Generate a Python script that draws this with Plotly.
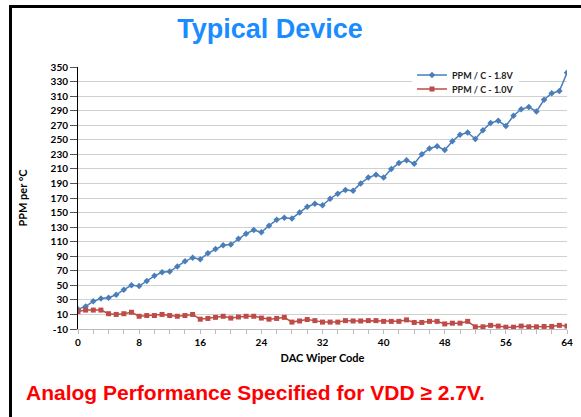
import plotly.graph_objects as go

# DAC wiper codes 0..64
codes = list(range(65))

ppm_18v = [17, 21, 28, 32, 33, 37, 44, 50, 49, 56, 63, 68, 69, 76, 83, 88,
           86, 94, 100, 105, 106, 114, 121, 126, 123, 132, 140, 143, 142, 150,
           158, 162, 160, 169, 176, 181, 180, 190, 198, 202, 198, 210, 218, 222,
           217, 230, 238, 241, 236, 248, 257, 260, 251, 263, 273, 276, 269, 283,
           292, 295, 289, 305, 314, 317, 342]

ppm_10v = [14, 16, 16, 16, 11, 10, 11, 13, 7.5, 8.5, 8.5, 10, 8.5, 7.5, 8.5, 10,
           3.5, 4.5, 6, 7.5, 5, 6.5, 7.5, 7.5, 5, 3.5, 4.5, 6, -0.5, 1, 3, 1.5,
           -0.5, -0.5, -0.5, 1.5, 1, 1, 1.5, 1.5, 0.5, 0.5, 0.5, 2.5, -1, -1, 0.5,
           0.5, -3, -2, -2, 0.5, -7, -7, -5, -6, -7.5, -7.5, -6, -7, -7, -6.5,
           -6.5, -5, -6]

y_ticks = list(range(-10, 351, 20))
x_ticks = list(range(0, 65, 8))

W, H = 581, 417
L, R, T, B = 78, 14, 67, 88
pw, ph = W - L - R, H - T - B


def px_x(p):
    return (p - L) / pw


def px_y(p):
    return (H - B - p) / ph


font = "Lato, 'Open Sans', Arial, sans-serif"
blue, red = "#4A7EBB", "#BE4B48"

fig = go.Figure()
fig.add_trace(go.Scatter(
    x=codes, y=ppm_18v, name="<b>PPM / C - 1.8V</b>", mode="lines+markers",
    line=dict(color=blue, width=1.5),
    marker=dict(symbol="diamond", size=5, color=blue),
    legend="legend",
))
fig.add_trace(go.Scatter(
    x=codes, y=ppm_10v, name="<b>PPM / C - 1.0V</b>", mode="lines+markers",
    line=dict(color=red, width=1.5),
    marker=dict(symbol="square", size=5, color=red),
    legend="legend2",
))

leg_common = dict(xanchor="left", yanchor="middle",
                  font=dict(family=font, size=9, color="#222"),
                  itemwidth=30, borderwidth=0)

fig.update_layout(
    width=W, height=H,
    margin=dict(l=L, r=R, t=T, b=B, autoexpand=False),
    paper_bgcolor="white", plot_bgcolor="white",
    title=dict(text="<b>Typical Device</b>", x=270 / W, xref="container",
               xanchor="center", y=1 - 29 / H, yanchor="middle",
               font=dict(family="Arial, 'Liberation Sans', sans-serif",
                         size=27, color="#1A8CFF")),
    legend=dict(x=px_x(412), y=px_y(75), bgcolor="white", **leg_common),
    legend2=dict(x=px_x(412), y=px_y(89), bgcolor="rgba(0,0,0,0)", **leg_common),
    showlegend=True,
)

fig.update_xaxes(
    range=[0, 64], tickvals=x_ticks,
    ticktext=[f"<b>{v}</b>" for v in x_ticks], showgrid=False,
    showline=True, linecolor="#BBBBBB", linewidth=1,
    ticks="outside", ticklen=4, tickcolor="#BBBBBB",
    minor=dict(dtick=2, ticks="outside", ticklen=4, tickcolor="#BBBBBB"),
    tickfont=dict(family=font, size=10, color="black"),
    title=dict(text="<b>DAC Wiper Code</b>", standoff=7,
               font=dict(family=font, size=11, color="black")),
    zeroline=False, automargin=False,
)
fig.update_yaxes(
    range=[-10, 350], tickvals=y_ticks,
    ticktext=[f"<b>{v}</b>" for v in y_ticks],
    showgrid=True, gridcolor="#D0D0D0",
    showline=True, linecolor="black", linewidth=1,
    ticks="outside", ticklen=7, tickcolor="#555555",
    tickfont=dict(family=font, size=10, color="black"),
    title=dict(text="<b>PPM per °C</b>", standoff=20,
               font=dict(family=font, size=11, color="black")),
    zeroline=False, automargin=False,
)

fig.add_annotation(
    text="<b>Analog Performance Specified for VDD ≥ 2.7V.</b>",
    xref="paper", yref="paper", x=px_x(24), y=px_y(392),
    xanchor="left", yanchor="middle", showarrow=False,
    font=dict(family="Arial, 'Liberation Sans', sans-serif", size=21,
              color="#FF0000"),
)

# black frame (left and top edges of the slide box)
fig.add_shape(type="line", xref="paper", yref="paper",
              x0=px_x(10.5), x1=px_x(10.5), y0=px_y(H + 5), y1=px_y(5),
              line=dict(color="black", width=3))
fig.add_shape(type="line", xref="paper", yref="paper",
              x0=px_x(9), x1=px_x(W + 5), y0=px_y(6.5), y1=px_y(6.5),
              line=dict(color="black", width=3))

# drop the browser's default 8px body margin so the figure sits at the page origin
fig.write_html(
    "out.html",
    config={"displayModeBar": False},
    post_script="document.body.style.margin='0';document.body.style.overflow='hidden';",
)
